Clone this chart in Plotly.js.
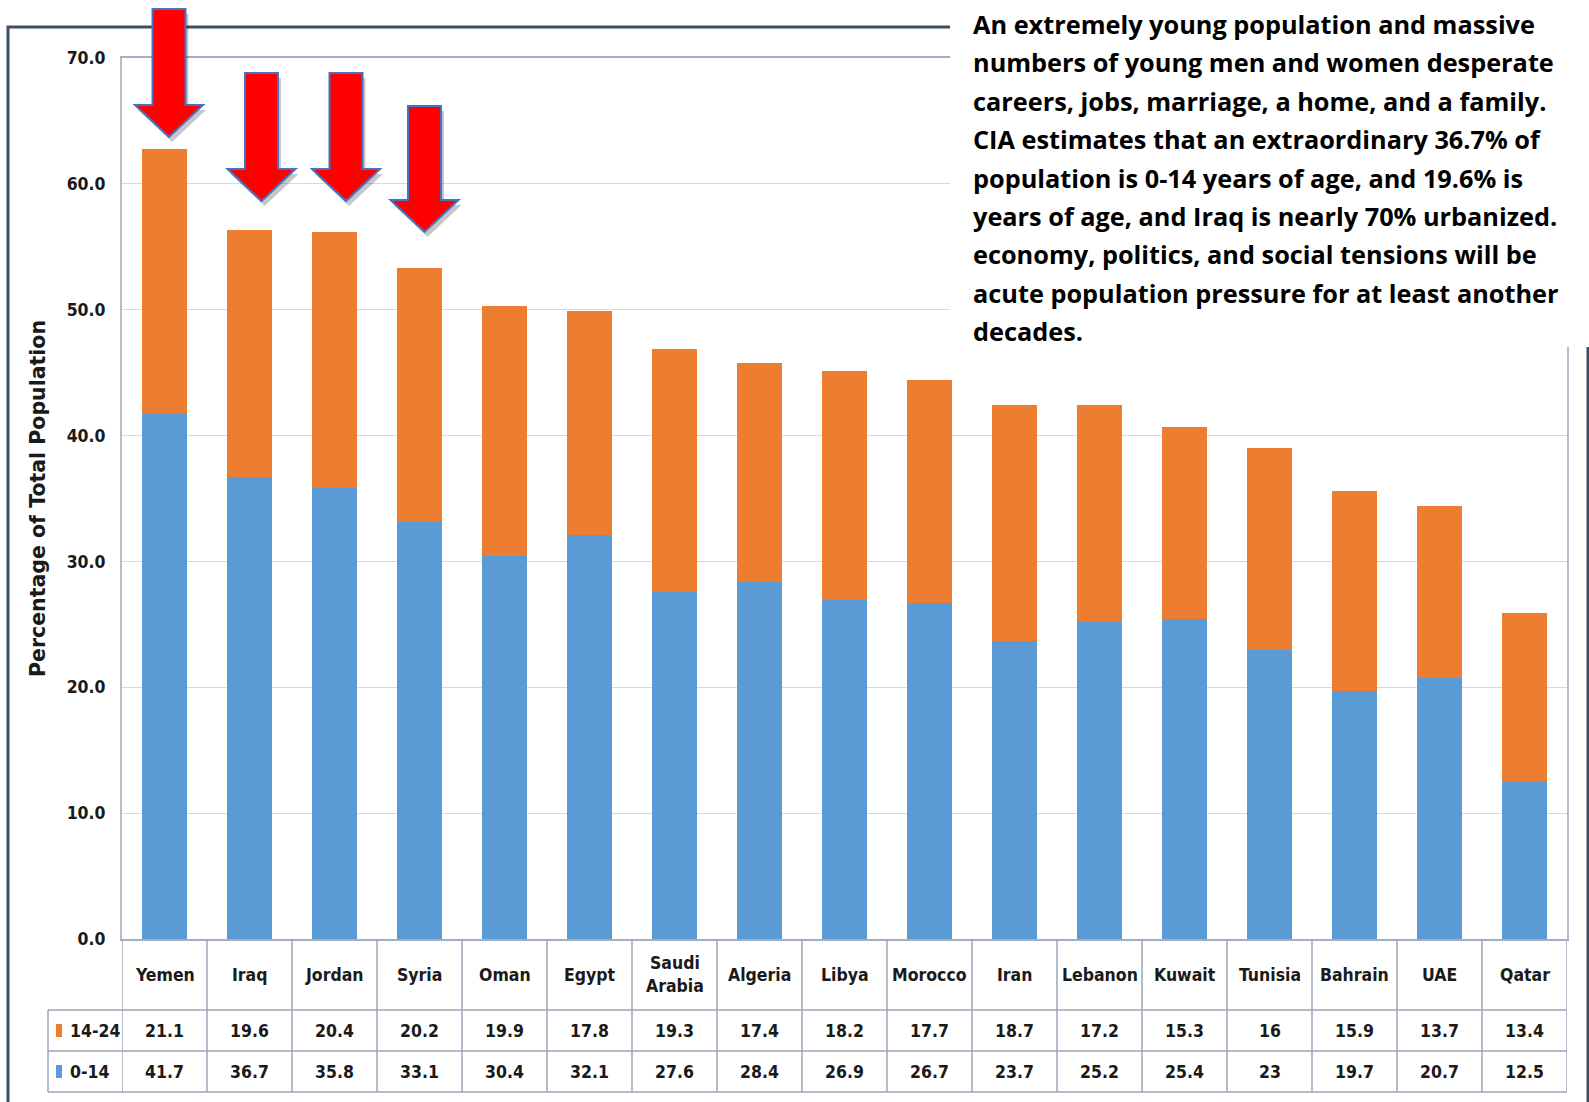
<!DOCTYPE html>
<html>
<head>
<meta charset="utf-8">
<script src="https://cdn.plot.ly/plotly-3.0.1.min.js"></script>
<style>
  html, body { margin: 0; padding: 0; background: #ffffff; }
  #chart { width: 1589px; height: 1102px; }
</style>
</head>
<body>
<div id="chart"></div>
<script>
// ---------------- DATA ----------------
const countries = ['Yemen', 'Iraq', 'Jordan', 'Syria', 'Oman', 'Egypt', 'Saudi Arabia', 'Algeria', 'Libya',
  'Morocco', 'Iran', 'Lebanon', 'Kuwait', 'Tunisia', 'Bahrain', 'UAE', 'Qatar'];
const countryLabels = ['Yemen', 'Iraq', 'Jordan', 'Syria', 'Oman', 'Egypt', 'Saudi<br>Arabia', 'Algeria', 'Libya',
  'Morocco', 'Iran', 'Lebanon', 'Kuwait', 'Tunisia', 'Bahrain', 'UAE', 'Qatar'];
const age0to14 = [41.7, 36.7, 35.8, 33.1, 30.4, 32.1, 27.6, 28.4, 26.9, 26.7, 23.7, 25.2, 25.4, 23, 19.7, 20.7, 12.5];
const age14to24 = [21.1, 19.6, 20.4, 20.2, 19.9, 17.8, 19.3, 17.4, 18.2, 17.7, 18.7, 17.2, 15.3, 16, 15.9, 13.7, 13.4];
const seriesNames = ['0-14', '14-24'];
const yTickValues = [0, 10, 20, 30, 40, 50, 60, 70];
const highlighted = ['Yemen', 'Iraq', 'Jordan', 'Syria'];
const yAxisTitle = 'Percentage of Total Population';
// the note as visible in the reference (its right part runs off the picture there)
const noteLines = [
  'An extremely young population and massive',
  'numbers of young men and women desperate',
  'careers, jobs, marriage, a home, and a family.',
  'CIA estimates that an extraordinary 36.7% of',
  'population is 0-14 years of age, and 19.6% is',
  'years of age, and Iraq is nearly 70% urbanized.',
  'economy, politics, and social tensions will be',
  'acute population pressure for at least another',
  'decades.'
];

// ---------------- GEOMETRY / STYLE ----------------
const W = 1589, H = 1102;
const L = 122, R = 1567, T = 58, B = 939;
const colW = (R - L) / countries.length;
const px = x => (x - L) / (R - L);
const py = y => (B - y) / (B - T);

const BLUE = '#5b9bd5', ORANGE = '#ed7d31';
const TABLE_LINE = '#9ba6ba';
const narrowFont = "'DejaVu Sans Condensed', 'Liberation Sans Narrow', 'Roboto', sans-serif";
const txtColor = '#1a1a1a';
const tableSize = 17.5;
const tableFont = { family: narrowFont, size: tableSize, color: txtColor, weight: 'bold' };

const traces = [
  { type: 'bar', name: seriesNames[0], x: countries, y: age0to14,
    marker: { color: BLUE }, hoverinfo: 'x+y+name' },
  { type: 'bar', name: seriesNames[1], x: countries, y: age14to24,
    marker: { color: ORANGE }, hoverinfo: 'x+y+name' }
];

const shapes = [];
const annotations = [];

// outer frame
shapes.push({ type: 'rect', xref: 'paper', yref: 'paper', layer: 'above',
  x0: px(8), x1: px(1588), y0: py(27), y1: py(1115),
  line: { color: '#404e63', width: 3 }, fillcolor: 'rgba(0,0,0,0)' });

// data table rows
const rowHeaderTop = B, rowHeaderBottom = 1010, rowABottom = 1051, rowBBottom = 1092;
const legendLeft = 48;
[rowHeaderBottom, rowABottom, rowBBottom].forEach(yy => {
  shapes.push({ type: 'line', xref: 'paper', yref: 'paper', layer: 'above',
    x0: px(legendLeft), x1: px(R), y0: py(yy), y1: py(yy),
    line: { color: TABLE_LINE, width: 1.5 } });
});
shapes.push({ type: 'line', xref: 'paper', yref: 'paper', layer: 'above',
  x0: px(legendLeft), x1: px(legendLeft), y0: py(rowHeaderBottom), y1: py(rowBBottom),
  line: { color: TABLE_LINE, width: 1.5 } });
for (let i = 0; i <= countries.length; i++) {
  shapes.push({ type: 'line', xref: 'x', yref: 'paper', layer: 'above',
    x0: i - 0.5, x1: i - 0.5, y0: py(rowHeaderTop), y1: py(rowBBottom),
    line: { color: TABLE_LINE, width: 1.5 } });
}

// legend keys
const keyRows = [
  { name: seriesNames[1], color: ORANGE, yc: (rowHeaderBottom + rowABottom) / 2 },
  { name: seriesNames[0], color: BLUE, yc: (rowABottom + rowBBottom) / 2 }
];
keyRows.forEach(k => {
  shapes.push({ type: 'rect', xref: 'paper', yref: 'paper', layer: 'above',
    x0: px(56), x1: px(62), y0: py(k.yc - 6.5), y1: py(k.yc + 6.5),
    line: { width: 0 }, fillcolor: k.color });
  annotations.push({ xref: 'paper', yref: 'paper', x: px(68), y: py(k.yc),
    xanchor: 'left', yanchor: 'middle', showarrow: false, text: k.name,
    font: tableFont });
});

// table text
countries.forEach((c, i) => {
  annotations.push({ xref: 'x', yref: 'paper', x: c, y: py((rowHeaderTop + rowHeaderBottom) / 2),
    xanchor: 'center', yanchor: 'middle', showarrow: false, text: countryLabels[i],
    font: tableFont });
  annotations.push({ xref: 'x', yref: 'paper', x: c, y: py((rowHeaderBottom + rowABottom) / 2),
    xanchor: 'center', yanchor: 'middle', showarrow: false, text: String(age14to24[i]),
    font: tableFont });
  annotations.push({ xref: 'x', yref: 'paper', x: c, y: py((rowABottom + rowBBottom) / 2),
    xanchor: 'center', yanchor: 'middle', showarrow: false, text: String(age0to14[i]),
    font: tableFont });
});

// white text box (covers top-right of frame & plot)
shapes.push({ type: 'rect', xref: 'paper', yref: 'paper', layer: 'above',
  x0: px(950), x1: px(1600), y0: py(-10), y1: py(347),
  line: { width: 0 }, fillcolor: '#ffffff' });

// note text
noteLines.forEach((t, i) => {
  annotations.push({ xref: 'paper', yref: 'paper', x: px(971), y: py(24 + i * 38.4),
    xanchor: 'left', yanchor: 'middle', showarrow: false, text: t,
    font: { family: "'Open Sans', sans-serif", size: 25.3, color: '#000000', weight: 'bold' } });
});

// red block arrows above highlighted bars
const arrowSpec = [
  { top: 9, tip: 137, dx: 4.5 },
  { top: 73, tip: 201, dx: 12 },
  { top: 73, tip: 201, dx: 11.5 },
  { top: 106, tip: 232, dx: 5 }
];
function arrowPath(cx, top, tip, ox, oy) {
  const sw = 16.5, hw = 34, hh = 32;
  const pts = [[cx - sw, top], [cx + sw, top], [cx + sw, tip - hh], [cx + hw, tip - hh],
    [cx, tip], [cx - hw, tip - hh], [cx - sw, tip - hh]];
  return 'M' + pts.map(p => px(p[0] + ox).toFixed(5) + ',' + py(p[1] + oy).toFixed(5)).join(' L') + ' Z';
}
highlighted.forEach((c, k) => {
  const i = countries.indexOf(c);
  const cx = L + (i + 0.5) * colW + arrowSpec[k].dx;
  shapes.push({ type: 'path', xref: 'paper', yref: 'paper', layer: 'above',
    path: arrowPath(cx, arrowSpec[k].top, arrowSpec[k].tip, 3, 5),
    fillcolor: 'rgba(0,0,0,0.22)', line: { width: 0 } });
  shapes.push({ type: 'path', xref: 'paper', yref: 'paper', layer: 'above',
    path: arrowPath(cx, arrowSpec[k].top, arrowSpec[k].tip, 0, 0),
    fillcolor: '#ff0000', line: { color: '#4472c4', width: 2 } });
});

const layout = {
  width: W, height: H,
  margin: { l: L, r: W - R, t: T, b: H - B, pad: 0 },
  paper_bgcolor: '#ffffff', plot_bgcolor: '#ffffff',
  barmode: 'stack', bargap: 0.47,
  showlegend: false,
  xaxis: {
    type: 'category', categoryorder: 'array', categoryarray: countries,
    range: [-0.5, countries.length - 0.5],
    showticklabels: false, ticks: '', showgrid: false, zeroline: false,
    showline: true, mirror: true, linecolor: '#a3aec2', linewidth: 2, fixedrange: true
  },
  yaxis: {
    range: [0, 70], tickvals: yTickValues, tickformat: '.1f',
    showgrid: true, gridcolor: '#d9d9d9', gridwidth: 1, zeroline: false,
    showline: true, mirror: true, linecolor: '#b3bdcd', linewidth: 2,
    ticks: '', ticklabelstandoff: 11,
    tickfont: tableFont,
    title: { text: yAxisTitle, standoff: 15,
      font: { family: "'DejaVu Sans', sans-serif", size: 20.5, color: '#1a1a1a', weight: 'bold' } },
    fixedrange: true
  },
  shapes: shapes,
  annotations: annotations
};

Plotly.newPlot('chart', traces, layout, { displayModeBar: false, staticPlot: false });
</script>
</body>
</html>
